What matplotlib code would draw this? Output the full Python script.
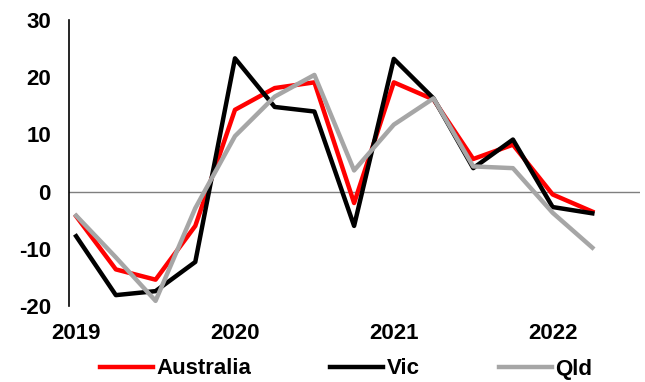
import matplotlib
matplotlib.use("Agg")
import matplotlib.pyplot as plt

# Quarterly series, Q1 2019 to Q2 2022
quarters = ["2019Q1", "2019Q2", "2019Q3", "2019Q4",
            "2020Q1", "2020Q2", "2020Q3", "2020Q4",
            "2021Q1", "2021Q2", "2021Q3", "2021Q4",
            "2022Q1", "2022Q2"]
australia = [-4.3, -13.6, -15.4, -6.0, 14.3, 18.1, 19.1, -2.0,
             19.1, 16.1, 5.7, 8.2, -0.5, -3.5]
vic = [-7.8, -18.1, -17.4, -12.3, 23.3, 14.8, 14.0, -6.0,
       23.2, 16.3, 4.1, 9.1, -2.7, -3.8]
qld = [-4.2, -11.5, -19.1, -2.9, 9.7, 16.6, 20.4, 3.7,
       11.7, 16.3, 4.4, 4.1, -3.7, -9.8]
year_labels = ["2019", "2020", "2021", "2022"]
y_ticks = [-20, -10, 0, 10, 20, 30]

plt.rcParams["font.family"] = ["Liberation Sans", "DejaVu Sans"]
plt.rcParams["font.weight"] = "bold"

fig = plt.figure(figsize=(6.45, 3.82), dpi=100)
ax = fig.add_axes([69 / 645, 1 - 306 / 382, (640 - 69) / 645, (306 - 20) / 382])

x = list(range(len(quarters)))
ax.axhline(0, color="#7f7f7f", lw=1.0, zorder=1)
ax.plot(x, australia, color="#ff0000", lw=3.2, label="Australia", zorder=3)
ax.plot(x, vic, color="#000000", lw=3.2, label="Vic", zorder=4)
ax.plot(x, qld, color="#a6a6a6", lw=3.2, label="Qld", zorder=5)

ax.set_ylim(-20, 30)
ax.set_xlim(-0.18, 14.2)
ax.set_yticks(y_ticks)
ax.set_yticklabels([str(v) for v in y_ticks])
ax.set_xticks([x[i] for i in range(0, len(quarters), 4)])
ax.set_xticklabels(year_labels)
ax.tick_params(axis="y", length=0, labelsize=16, pad=13)
ax.tick_params(axis="x", length=0, labelsize=16, pad=12)
for lab in ax.get_xticklabels() + ax.get_yticklabels():
    lab.set_fontweight("bold")

for side in ["top", "right", "bottom"]:
    ax.spines[side].set_visible(False)
ax.spines["left"].set_color("black")
ax.spines["left"].set_linewidth(1.2)

leg = fig.legend(loc="center", bbox_to_anchor=(346 / 645, 1 - 369 / 382),
                 ncol=3, frameon=False, handlelength=2.4, handletextpad=0.15,
                 columnspacing=3.55, borderpad=0.0,
                 prop={"size": 16, "weight": "bold"})

fig.savefig("out.png", dpi=100)
